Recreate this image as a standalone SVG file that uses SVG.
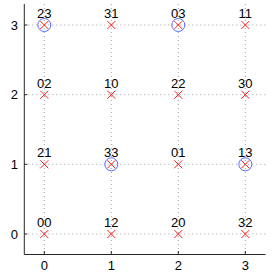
<svg xmlns="http://www.w3.org/2000/svg" width="277" height="277" viewBox="0 0 277 277">
<style>
.grid{stroke:#a0a0a0;stroke-width:1;stroke-dasharray:1,3;fill:none}
.axis{stroke:#262626;stroke-width:1;fill:none}
.mk{stroke:#ff2020;stroke-width:1;fill:none}
.ring{stroke:#5a6cff;stroke-width:1;fill:none}
.lbl{font-family:"Liberation Sans",Arial,sans-serif;font-size:13px;fill:#000;text-anchor:middle}
.tk{font-family:"Liberation Sans",Arial,sans-serif;font-size:13px;fill:#000}
</style>
<defs>
<g id="x"><path class="mk" d="M-4,-4L4,4M-4,4L4,-4"/></g>
</defs>
<rect width="277" height="277" fill="#fff"/>
<g id="grid">
<path class="grid" d="M44.3,4V254M111.3,4V254M178.3,4V254M245.3,4V254"/>
<path class="grid" d="M24.3,234H265.3M24.3,164.3H265.3M24.3,94.7H265.3M24.3,25H265.3"/>
</g>
<g id="axes">
<path class="axis" d="M24.3,4V254.5H265.5"/>
<path class="axis" d="M44.3,254V251M111.3,254V251M178.3,254V251M245.3,254V251M24.3,234H27.3M24.3,164.3H27.3M24.3,94.7H27.3M24.3,25H27.3"/>
<text class="tk" x="44.3" y="270" text-anchor="middle">0</text>
<text class="tk" x="111.3" y="270" text-anchor="middle">1</text>
<text class="tk" x="178.3" y="270" text-anchor="middle">2</text>
<text class="tk" x="245.3" y="270" text-anchor="middle">3</text>
<text class="tk" x="18" y="238.5" text-anchor="end">0</text>
<text class="tk" x="18" y="168.8" text-anchor="end">1</text>
<text class="tk" x="18" y="99.2" text-anchor="end">2</text>
<text class="tk" x="18" y="29.5" text-anchor="end">3</text>
</g>
<g id="connectors"/>
<g id="n00"><use href="#x" x="44.3" y="234"/><text class="lbl" x="44.3" y="227">00</text></g>
<g id="n12"><use href="#x" x="111.3" y="234"/><text class="lbl" x="111.3" y="227">12</text></g>
<g id="n20"><use href="#x" x="178.3" y="234"/><text class="lbl" x="178.3" y="227">20</text></g>
<g id="n32"><use href="#x" x="245.3" y="234"/><text class="lbl" x="245.3" y="227">32</text></g>
<g id="n21"><use href="#x" x="44.3" y="164.3"/><text class="lbl" x="44.3" y="157.3">21</text></g>
<g id="n33"><use href="#x" x="111.3" y="164.3"/><circle class="ring" cx="111.3" cy="164.3" r="6.5"/><text class="lbl" x="111.3" y="157.3">33</text></g>
<g id="n01"><use href="#x" x="178.3" y="164.3"/><text class="lbl" x="178.3" y="157.3">01</text></g>
<g id="n13"><use href="#x" x="245.3" y="164.3"/><circle class="ring" cx="245.3" cy="164.3" r="6.5"/><text class="lbl" x="245.3" y="157.3">13</text></g>
<g id="n02"><use href="#x" x="44.3" y="94.7"/><text class="lbl" x="44.3" y="87.7">02</text></g>
<g id="n10"><use href="#x" x="111.3" y="94.7"/><text class="lbl" x="111.3" y="87.7">10</text></g>
<g id="n22"><use href="#x" x="178.3" y="94.7"/><text class="lbl" x="178.3" y="87.7">22</text></g>
<g id="n30"><use href="#x" x="245.3" y="94.7"/><text class="lbl" x="245.3" y="87.7">30</text></g>
<g id="n23"><use href="#x" x="44.3" y="25"/><circle class="ring" cx="44.3" cy="25" r="6.5"/><text class="lbl" x="44.3" y="18">23</text></g>
<g id="n31"><use href="#x" x="111.3" y="25"/><text class="lbl" x="111.3" y="18">31</text></g>
<g id="n03"><use href="#x" x="178.3" y="25"/><circle class="ring" cx="178.3" cy="25" r="6.5"/><text class="lbl" x="178.3" y="18">03</text></g>
<g id="n11"><use href="#x" x="245.3" y="25"/><text class="lbl" x="245.3" y="18">11</text></g>
</svg>
